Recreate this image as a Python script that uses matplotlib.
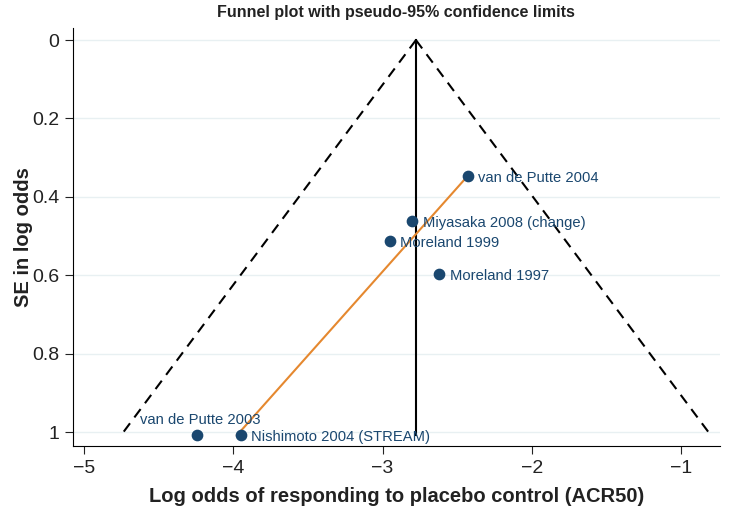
import numpy as np
import matplotlib
matplotlib.use("Agg")
import matplotlib.pyplot as plt

plt.rcParams['font.family'] = ['Liberation Sans', 'DejaVu Sans']

# study estimates
studies = ["van de Putte 2004", "Miyasaka 2008 (change)", "Moreland 1999",
           "Moreland 1997", "van de Putte 2003", "Nishimoto 2004 (STREAM)"]
log_odds = [-2.43, -2.80, -2.95, -2.62, -4.24, -3.95]
se = [0.347, 0.462, 0.513, 0.597, 1.008, 1.008]

pooled = -2.776          # fixed-effect estimate
se_max = 1.008
egger_se = [0.347, 1.008]        # Egger line endpoints
egger_x = [-2.43, -3.975]

xticks = [-5, -4, -3, -2, -1]
yticks = [0, 0.2, 0.4, 0.6, 0.8, 1]

navy = '#1a476f'
orange = '#e5882f'

fig = plt.figure(figsize=(7.3, 5.17), dpi=100)
ax = fig.add_axes([0.1, 0.137, 0.886, 0.809])

for t in yticks:
    ax.axhline(t, color='#e8f0f2', lw=1, zorder=0)

# pseudo 95% limits
se_line = np.array([0, se_max])
ax.plot(pooled - 1.96 * se_line, se_line, 'k--', lw=1.5, dashes=(5, 3.5))
ax.plot(pooled + 1.96 * se_line, se_line, 'k--', lw=1.5, dashes=(5, 3.5))
ax.plot([pooled, pooled], [0, se_max], color='k', lw=1.5)

ax.plot(egger_x, egger_se, color=orange, lw=1.5)

ax.scatter(log_odds, se, s=55, color=navy, zorder=3)
for name, x, y in zip(studies, log_odds, se):
    if name == "van de Putte 2003":
        ax.text(x + 0.02, y - 0.04, name, color=navy, fontsize=10.6, ha='center', va='center')
    else:
        ax.text(x + 0.07, y + 0.004, name, color=navy, fontsize=10.6, ha='left', va='center')

ax.set_xlim(-5.074, -0.74)
ax.set_ylim(1.036, -0.031)
ax.set_xticks(xticks)
ax.set_yticks(yticks)
ax.set_yticklabels(['0', '0.2', '0.4', '0.6', '0.8', '1'])
ax.set_xticklabels(['\u22125', '\u22124', '\u22123', '\u22122', '\u22121'])
ax.tick_params(direction='out', length=6, labelsize=14, colors='#222222', pad=4)

ax.spines['top'].set_visible(False)
ax.spines['right'].set_visible(False)

ax.set_xlabel("Log odds of responding to placebo control (ACR50)", fontsize=14.5,
              fontweight='bold', color='#222222', labelpad=7)
ax.set_ylabel("SE in log odds", fontsize=14.5, fontweight='bold', color='#222222', labelpad=-1)
ax.set_title("Funnel plot with pseudo-95% confidence limits", fontsize=11.5,
             fontweight='bold', color='#222222', pad=8)

fig.savefig("out.png", dpi=100)
